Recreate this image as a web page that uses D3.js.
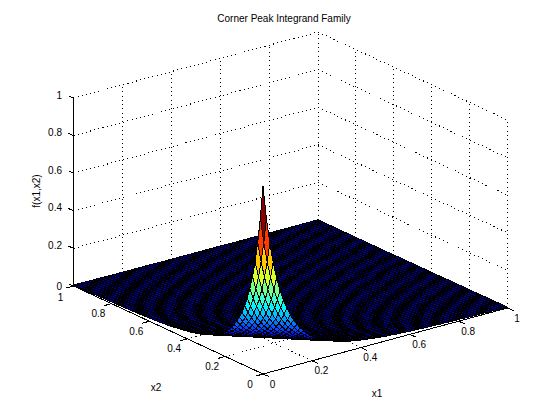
<!DOCTYPE html>
<html><head><meta charset="utf-8">
<script src="https://cdnjs.cloudflare.com/ajax/libs/d3/7.8.5/d3.min.js"></script>
<style>html,body{margin:0;padding:0;background:#fff}svg{display:block}
text{font-family:"Liberation Sans",Arial,sans-serif;font-size:10px;fill:#000}</style></head><body>
<div id="chart"></div>
<script>
const titleText = "Corner Peak Integrand Family";
const x1Ticks = [0,0.2,0.4,0.6,0.8,1];
const x2Ticks = [0,0.2,0.4,0.6,0.8,1];
const zTicks = [0,0.2,0.4,0.6,0.8,1];
// Surface height, listed by mesh steps away from the peak corner.
const heightBySteps = [
1,.824,.687,.579,.492,.422,.364,.317,.277,.244,
.216,.192,.171,.154,.138,.125,.113,.103,.094,.086,
.079,.072,.067,.062,.057,.053,.049,.046,.042,.040,
.037,.035,.033,.031,.029,.027,.025,.024,.023,.021,
.020,.019,.018,.017,.016,.016,.015,.014,.013,.013,
.012,.012,.011,.011,.010,.010,.009,.009,.009,.008,
.008,.008,.007,.007,.007,.007,.006,.006,.006,.006,
.005,.005,.005,.005,.005,.005,.004,.004,.004,.004,
.004,.004,.004,.004,.003,.003,.003,.003,.003,.003,
.003,.003,.003,.003,.003,.003,.002,.002,.002,.002,
.002,.002,.002,.002,.002,.002,.002,.002,.002,.002,
.002,.002,.002,.002,.002,.002,.002,.001,.001,.001,
.001,.001,.001,.001,.001,.001,.001,.001,.001,.001,
.001,.001,.001,.001,.001,.001,.001,.001,.001,.001,
.001,.001,.001,.001,.001,.001,.001,.001,.001,.001,.001];
const meshCells = 72;
const jetStops = [0,0.125,0.375,0.625,0.875,1];
const jetColors = ["#000090","#0000ff","#00ffff","#ffff00","#ff0000","#800000"];

const W=560,H=420;
const svg=d3.select("#chart").append("svg").attr("width",W).attr("height",H);
// affine oblique projection through per-axis scales
const x1X=d3.scaleLinear().domain([0,1]).range([0,244.5]);
const x1Y=d3.scaleLinear().domain([0,1]).range([0,-66]);
const x2X=d3.scaleLinear().domain([0,1]).range([0,-189.5]);
const x2Y=d3.scaleLinear().domain([0,1]).range([0,-88]);
const zY=d3.scaleLinear().domain([0,1]).range([0,-188]);
const sx=(a,b)=>263+x1X(a)+x2X(b);
const sy=(a,b,c)=>374+x1Y(a)+x2Y(b)+zY(c);
const jetRaw=d3.scaleLinear().domain(jetStops).range(jetColors).clamp(true);
const jet=z=>jetRaw((Math.min(63,Math.floor(z*64))+0.5)/64);
const line=(g,p,q,dot)=>{const l=g.append("line").attr("x1",p[0]).attr("y1",p[1]).attr("x2",q[0]).attr("y2",q[1])
  .attr("stroke","#000").attr("stroke-width",1).attr("shape-rendering","crispEdges");
  if(dot)l.attr("stroke-dasharray","1 3.3");return l;};
const P=(a,b,c)=>[sx(a,b),sy(a,b,c)];

// grid
const grid=svg.append("g");
zTicks.forEach(z=>{ line(grid,P(0,1,z),P(1,1,z),true); line(grid,P(1,1,z),P(1,0,z),true); });
x1Ticks.forEach(a=>{ if(a>0) line(grid,P(a,1,0),P(a,1,1),true); line(grid,P(a,0,0),P(a,1,0),true); });
x2Ticks.forEach(b=>{ if(b<1) line(grid,P(1,b,0),P(1,b,1),true); line(grid,P(0,b,0),P(1,b,0),true); });

// axes
const axes=svg.append("g");
line(axes,P(0,1,0),P(0,1,1));
line(axes,P(0,1,0),P(0,0,0));
line(axes,P(0,0,0),P(1,0,0));
zTicks.forEach(z=>{const p=P(0,1,z);line(axes,p,[p[0]-5,p[1]-2.3]);
  svg.append("text").attr("x",62).attr("y",sy(0,1,z)+(z==0?0.5:-3)+3.5).attr("text-anchor","end").text(String(z));});
x2Ticks.forEach(b=>{const p=P(0,b,0);line(axes,p,[p[0]-7,p[1]+2]);
  svg.append("text").attr("x",p[0]-13).attr("y",p[1]+(b==1?11:10)+3.5).attr("text-anchor","middle").text(String(b));});
x1Ticks.forEach(a=>{const p=P(a,0,0);line(axes,p,[p[0]+6,p[1]+2.6]);
  svg.append("text").attr("x",p[0]+9.5).attr("y",p[1]+10+3.5).attr("text-anchor","middle").text(String(a));});

// surface, painted far to near
const surf=svg.append("g").attr("stroke","#000").attr("stroke-width",1).attr("shape-rendering","crispEdges");
const cells=[];
for(let i=meshCells-1;i>=0;i--)for(let j=meshCells-1;j>=0;j--)cells.push([i,j]);
const h=(i,j)=>heightBySteps[i+j];
const u=d3.scaleLinear().domain([0,meshCells]).range([0,1]);
surf.selectAll("path").data(cells).join("path")
 .attr("fill",d=>jet(h(d[0],d[1])))
 .attr("d",([i,j])=>"M"+[[i,j],[i+1,j],[i+1,j+1],[i,j+1]].map(([a,b])=>sx(u(a),u(b)).toFixed(1)+","+sy(u(a),u(b),h(a,b)).toFixed(1)).join("L")+"Z");

// labels
svg.append("text").attr("x",284).attr("y",22).attr("text-anchor","middle").text(titleText);
svg.append("text").attr("x",156).attr("y",391).attr("text-anchor","middle").text("x2");
svg.append("text").attr("x",377).attr("y",397).attr("text-anchor","middle").text("x1");
svg.append("text").attr("transform","translate(40,191) rotate(-90)").attr("text-anchor","middle").text("f(x1,x2)");
</script></body></html>
